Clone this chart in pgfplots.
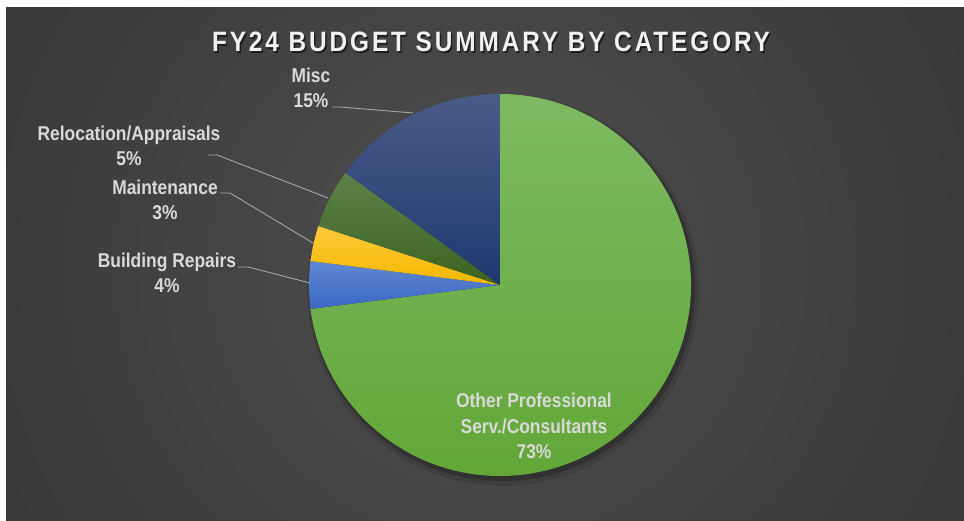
\documentclass[border=0pt]{standalone}
\usepackage{pgfplots}
\pgfplotsset{compat=1.18}
\usepackage{pgfplotstable}
\usepackage{fontspec}
\setmainfont{Liberation Sans}
\newfontfamily\lblfont[FakeStretch=0.87]{Liberation Sans}
\newfontfamily\titlefont[FakeStretch=0.87,LetterSpace=10.4]{Liberation Sans}

\definecolor{bgA}{HTML}{4F4F4F}
\definecolor{bgB}{HTML}{3A3A3A}
\definecolor{bgC}{HTML}{2B2B2B}
\definecolor{bgD}{HTML}{252525}
\definecolor{grT}{HTML}{7EBA62}
\definecolor{grB}{HTML}{62A738}
\definecolor{blT}{HTML}{6089D3}
\definecolor{blB}{HTML}{3A67C2}
\definecolor{yeT}{HTML}{FFCA3C}
\definecolor{yeB}{HTML}{F2B700}
\definecolor{dgT}{HTML}{5C8249}
\definecolor{dgB}{HTML}{3D6321}
\definecolor{nvT}{HTML}{4A5C88}
\definecolor{nvB}{HTML}{1E3970}
\definecolor{lblC}{HTML}{D9D9D9}
\definecolor{lineC}{HTML}{A6A6A6}

\pgfdeclareradialshading{bgshade}{\pgfpoint{0bp}{0bp}}{color(0bp)=(bgA); color(23bp)=(bgB); color(44bp)=(bgC); color(50bp)=(bgD)}

% share of the budget, in per cent, clockwise from 12 o'clock
\pgfplotstableread{
value topc botc
73 grT grB
4  blT blB
3  yeT yeB
5  dgT dgB
15 nvT nvB
}\piedata

\begin{document}
\begin{tikzpicture}
\useasboundingbox (0,0) rectangle (964pt,521pt);
\fill[white] (0,0) rectangle (964pt,521pt);
\begin{scope}
\clip (6pt,0pt) rectangle (964pt,513pt);
\shade[shading=bgshade,overlay] (-60pt,-288.5pt) rectangle (1030pt,801.5pt);
\end{scope}
\begin{axis}[at={(0pt,0pt)},anchor=south west,scale only axis,
  width=964pt,height=521pt,xmin=0,xmax=964,ymin=0,ymax=521,
  hide axis,clip=false]
  % soft shadow of the pie
  \fill[black,opacity=0.10] (axis cs:503,231) circle[radius=196pt];
  \fill[black,opacity=0.20] (axis cs:502,233) circle[radius=193pt];
  % slices
  \pgfplotstablegetrowsof{\piedata}
  \pgfmathtruncatemacro\lastrow{\pgfplotsretval-1}
  \xdef\angstart{90}
  \pgfplotsforeachungrouped \i in {0,...,\lastrow}{%
    \pgfplotstablegetelem{\i}{value}\of\piedata \let\v\pgfplotsretval
    \pgfplotstablegetelem{\i}{topc}\of\piedata \let\ct\pgfplotsretval
    \pgfplotstablegetelem{\i}{botc}\of\piedata \let\cb\pgfplotsretval
    \pgfmathsetmacro\angend{\angstart-3.6*\v}%
    \edef\temp{\noexpand\path[top color=\ct,bottom color=\cb]
      (axis cs:500,236) -- ++(\angstart:191pt)
      arc[start angle=\angstart,end angle=\angend,radius=191pt] -- cycle;}%
    \temp
    \xdef\angstart{\angend}%
  }
  % leader lines
  \draw[lineC,line width=0.9pt] (axis cs:332,414) -- (axis cs:340,414) -- (axis cs:413,408);
  \draw[lineC,line width=0.9pt] (axis cs:208,366) -- (axis cs:217,366) -- (axis cs:328,323);
  \draw[lineC,line width=0.9pt] (axis cs:220,328) -- (axis cs:230,328) -- (axis cs:313,278);
  \draw[lineC,line width=0.9pt] (axis cs:238,254) -- (axis cs:248,254) -- (axis cs:310,238);
  % labels
  \tikzset{lbl/.style={align=center,text=lblC,inner sep=0pt,
    font={\lblfont\bfseries\fontsize{20}{25.5}\selectfont}}}
  \node[lbl] at (axis cs:311,433) {Misc\\15\%};
  \node[lbl] at (axis cs:129,375) {Relocation/Appraisals\\5\%};
  \node[lbl] at (axis cs:165,321) {Maintenance\\3\%};
  \node[lbl] at (axis cs:167,248) {Building Repairs\\4\%};
  \node[lbl] at (axis cs:534,95) {Other Professional\\Serv./Consultants\\73\%};
  % title
  \node[text=black,opacity=0.55,inner sep=0pt,font={\titlefont\bfseries\fontsize{28}{32}\selectfont}]
    at (axis cs:492.5,477.5) {FY24 BUDGET SUMMARY BY CATEGORY};
  \node[text=white!95!black,inner sep=0pt,font={\titlefont\bfseries\fontsize{28}{32}\selectfont}]
    at (axis cs:491,479) {FY24 BUDGET SUMMARY BY CATEGORY};
\end{axis}
\end{tikzpicture}
\end{document}
